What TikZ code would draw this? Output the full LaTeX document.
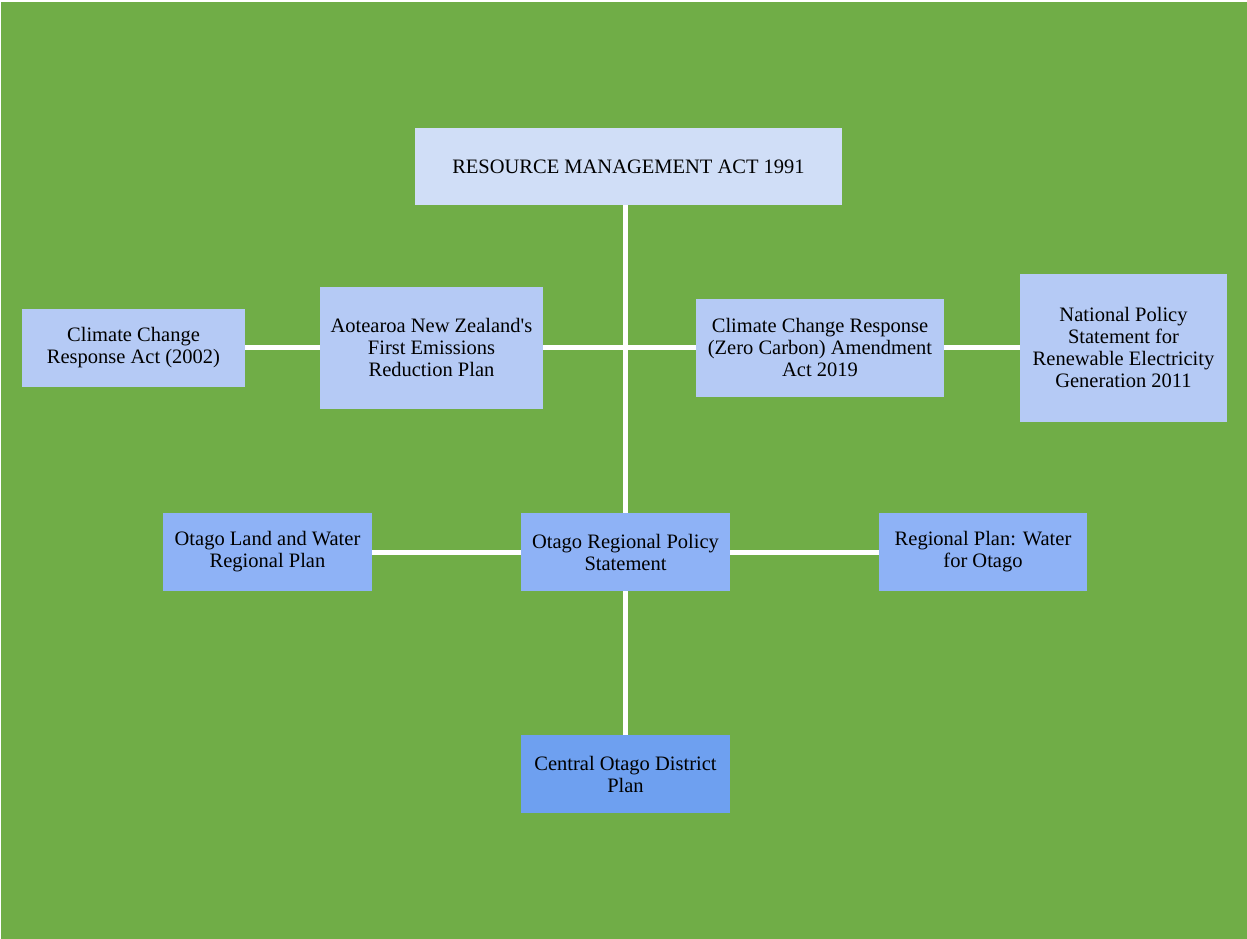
\documentclass[tikz,border=0pt]{standalone}
\usepackage{fontspec}
\setmainfont{Liberation Serif}[Ligatures=TeXOff]
\usetikzlibrary{positioning}
\definecolor{bggreen}{RGB}{112,173,71}
\definecolor{actblue}{RGB}{208,222,247}
\definecolor{natblue}{RGB}{181,202,245}
\definecolor{regblue}{RGB}{142,178,246}
\definecolor{distblue}{RGB}{110,160,240}

\begin{document}
\begin{tikzpicture}[x=1pt,y=-1pt,
  box/.style={inner sep=0pt,align=center,font=\fontsize{20.5}{22}\selectfont},
  link/.style={white,line width=5pt}]
  \fill[white] (0,0) rectangle (1247,939);
  \fill[bggreen] (1,2) rectangle (1247,939);
  % top level act
  \node[box,fill=actblue,minimum width=427pt,minimum height=77pt] (rma) at (628.5,166.5) {RESOURCE MANAGEMENT ACT 1991};
  % national documents
  \node[box,fill=natblue,minimum width=223pt,minimum height=78pt] (ccra) at (133.5,347.5) {Climate Change\\Response Act (2002)};
  \node[box,fill=natblue,minimum width=223pt,minimum height=122pt] (erp) at (431.5,347.5) {Aotearoa New Zealand's\\First Emissions\\Reduction Plan};
  \node[box,fill=natblue,minimum width=248pt,minimum height=98pt] (zca) at (820,347.5) {Climate Change Response\\(Zero Carbon) Amendment\\Act 2019};
  \node[box,fill=natblue,minimum width=207pt,minimum height=148pt] (nps) at (1123.5,347.5) {National Policy\\Statement for\\Renewable Electricity\\Generation 2011};
  % regional documents
  \node[box,fill=regblue,minimum width=209pt,minimum height=78pt] (orps) at (625.5,552) {Otago Regional Policy\\Statement};
  \node[box,fill=regblue,minimum width=209pt,minimum height=78pt] (lwrp) at (267.5,552) {Otago Land and Water\\Regional Plan};
  \node[box,fill=regblue,minimum width=208pt,minimum height=78pt] (rpw) at (983,552) {Regional Plan: Water\\for Otago};
  % district plan
  \node[box,fill=distblue,minimum width=209pt,minimum height=78pt] (codp) at (625.5,774) {Central Otago District\\Plan};

  \draw[link] (orps.north) -- (orps.north |- rma.south);
  \foreach \a/\b in {ccra/erp,erp/zca,zca/nps,lwrp/orps,orps/rpw,orps/codp}{
    \draw[link] (\a) -- (\b);
  }
\end{tikzpicture}
\end{document}
